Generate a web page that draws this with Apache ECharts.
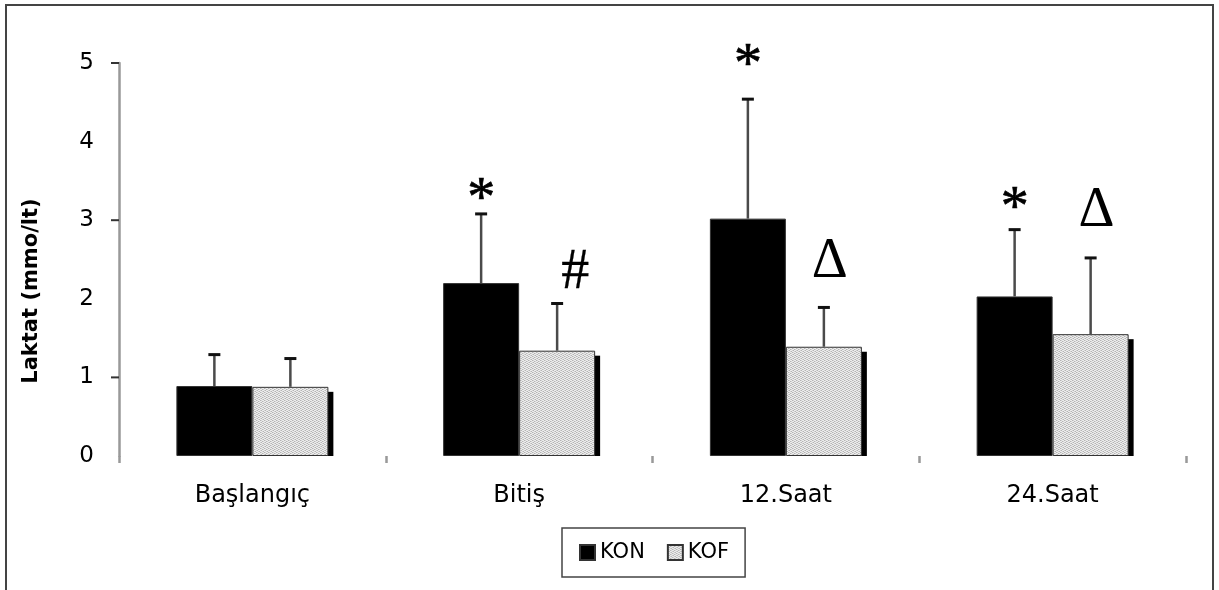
<!DOCTYPE html>
<html>
<head>
<meta charset="utf-8">
<script src="https://cdn.jsdelivr.net/npm/echarts@6/dist/echarts.min.js"></script>
<style>html,body{margin:0;padding:0;background:#fff}#c{width:1219px;height:590px}</style>
</head>
<body>
<div id="c"></div>
<script>
// ---- data ----
const categories = ['Başlangıç', 'Bitiş', '12.Saat', '24.Saat'];
const seriesNames = ['KON', 'KOF'];
const konMean = [0.89, 2.20, 3.02, 2.03];
const konSD   = [0.40, 0.88, 1.52, 0.85];
const kofMean = [0.88, 1.34, 1.39, 1.55];
const kofSD   = [0.36, 0.60, 0.50, 0.97];
const yTickMarks = [1, 3, 5];
const konMarks = ['', '*', '*', '*'];
const konMarkY = [null, 3.24, 4.95, 3.13];
const kofMarks = ['', '#', 'Δ', 'Δ'];
const kofMarkY = [null, 2.33, 2.47, 3.11];
const yAxisTitle = 'Laktat (mmo/lt)';

// ---- styles ----
const BAR_W = 76;
const FONT = 'DejaVu Sans';
const GLYPH_NUDGE = { '*': 0, '#': 18, 'Δ': 6 };
const GLYPH_STROKE = { '*': 0.7, '#': 0.3, 'Δ': 0 };

function makePattern() {
  const c = document.createElement('canvas');
  c.width = 4; c.height = 4;
  const g = c.getContext('2d');
  g.fillStyle = '#ececec';
  g.fillRect(0, 0, 4, 4);
  g.fillStyle = '#b4b4b4';
  [[0,0],[2,1],[1,2],[3,3]].forEach(p => g.fillRect(p[0], p[1], 1, 1));
  g.fillStyle = '#d0d0d0';
  [[2,3],[0,2],[3,1],[1,0]].forEach(p => g.fillRect(p[0], p[1], 1, 1));
  return c;
}
const kofFill = { image: makePattern(), repeat: 'repeat' };

const chart = echarts.init(document.getElementById('c'), null, { renderer: 'canvas' });

function errData(mean, sd) {
  return mean.map((m, i) => [i, m + sd[i], m]);
}
function errRender(offset) {
  return function (params, api) {
    const i = api.value(0);
    const pTop = api.coord([i, api.value(1)]);
    const pBase = api.coord([i, api.value(2)]);
    const x = pBase[0] + offset;
    return {
      type: 'group',
      children: [
        { type: 'line', shape: { x1: x, y1: pBase[1], x2: x, y2: pTop[1] },
          style: { stroke: '#4a4a4a', lineWidth: 2.5 } },
        { type: 'line', shape: { x1: x - 6, y1: pTop[1], x2: x + 6, y2: pTop[1] },
          style: { stroke: '#111', lineWidth: 3 } }
      ]
    };
  };
}
function markData(marks, ys) {
  const out = [];
  marks.forEach((m, i) => { if (m) out.push([i, ys[i], m]); });
  return out;
}
function markRender(offset) {
  return function (params, api) {
    const i = api.value(0);
    const p = api.coord([i, api.value(1)]);
    const txt = marks_lookup[params.seriesName][params.dataIndexInside];
    const sw = GLYPH_STROKE[txt] || 0;
    return {
      type: 'text',
      x: p[0] + offset + (GLYPH_NUDGE[txt] || 0), y: p[1],
      style: { text: txt, font: '56px "Liberation Serif"', fill: '#000',
               stroke: sw ? '#000' : null, lineWidth: sw,
               align: 'center', verticalAlign: 'middle' }
    };
  };
}
const konMarkData = markData(konMarks, konMarkY);
const kofMarkData = markData(kofMarks, kofMarkY);
const marks_lookup = {
  'konMarks': konMarkData.map(d => d[2]),
  'kofMarks': kofMarkData.map(d => d[2])
};

const option = {
  animation: false,
  backgroundColor: '#fff',
  grid: { left: 119, right: 33, top: 63, bottom: 134 },
  legend: {
    data: seriesNames,
    left: 562, top: 528,
    padding: [14, 16, 14, 17],
    itemWidth: 15, itemHeight: 15, itemGap: 22,
    borderColor: '#444', borderWidth: 1.5,
    icon: 'rect',
    textStyle: { fontFamily: FONT, fontSize: 21, color: '#000' }
  },
  xAxis: {
    type: 'category',
    data: categories,
    axisLine: { show: false },
    axisTick: { show: true, length: 7, interval: 0, lineStyle: { color: '#999', width: 2.5 } },
    axisLabel: { margin: 28, fontFamily: FONT, fontSize: 24, color: '#000' },
    splitLine: { show: false }
  },
  yAxis: {
    type: 'value',
    min: 0, max: 5, interval: 1,
    axisLine: { show: true, lineStyle: { color: '#999', width: 2.5 } },
    axisTick: { show: false },
    axisLabel: { margin: 25, fontFamily: FONT, fontSize: 23, color: '#000' },
    splitLine: { show: false }
  },
  graphic: [
    { type: 'rect', shape: { x: 6, y: 5, width: 1207, height: 700 },
      style: { fill: 'none', stroke: '#444', lineWidth: 2 }, silent: true },
    { type: 'text', x: 32, y: 291, rotation: Math.PI / 2,
      style: { text: yAxisTitle, font: 'bold 21px "DejaVu Sans"', fill: '#000',
               align: 'center', verticalAlign: 'middle' } }
  ],
  series: [
    {
      name: 'kofShadow', type: 'custom', z: 1,
      data: kofMean.map((m, i) => [i, m]),
      renderItem: function (params, api) {
        const i = api.value(0);
        const pt = api.coord([i, api.value(1)]);
        const p0 = api.coord([i, 0]);
        return { type: 'rect',
          shape: { x: pt[0] + BAR_W - 1, y: pt[1] + 5, width: 6, height: p0[1] - pt[1] - 5 },
          style: { fill: '#000' } };
      }
    },
    {
      name: 'KON', type: 'bar', barWidth: BAR_W, barGap: '0%', z: 2,
      data: konMean,
      itemStyle: { color: '#000', borderColor: '#333', borderWidth: 1 }
    },
    {
      name: 'KOF', type: 'bar', barWidth: BAR_W, barGap: '0%', z: 2,
      data: kofMean,
      itemStyle: { color: kofFill, borderColor: '#333', borderWidth: 1 }
    },
    { name: 'konErr', type: 'custom', z: 3, data: errData(konMean, konSD), renderItem: errRender(-BAR_W / 2) },
    { name: 'kofErr', type: 'custom', z: 3, data: errData(kofMean, kofSD), renderItem: errRender(BAR_W / 2) },
    {
      name: 'yTicks', type: 'custom', z: 3, clip: false,
      data: yTickMarks.map(v => [0, v]),
      renderItem: function (params, api) {
        const x0 = params.coordSys.x;
        const p = api.coord([0, api.value(1)]);
        return { type: 'line', shape: { x1: x0 - 8, y1: p[1], x2: x0, y2: p[1] },
          style: { stroke: '#333', lineWidth: 2 } };
      }
    },
    { name: 'konMarks', type: 'custom', z: 4, clip: false, data: konMarkData, renderItem: markRender(-BAR_W / 2) },
    { name: 'kofMarks', type: 'custom', z: 4, clip: false, data: kofMarkData, renderItem: markRender(BAR_W / 2) }
  ]
};
chart.setOption(option);
</script>
</body>
</html>
